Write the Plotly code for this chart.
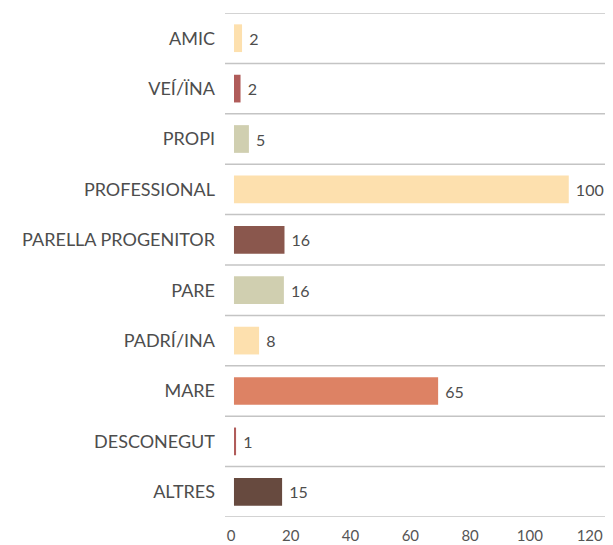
import plotly.graph_objects as go

categories = ["AMIC", "VEÍ/ÏNA", "PROPI", "PROFESSIONAL", "PARELLA PROGENITOR",
              "PARE", "PADRÍ/INA", "MARE", "DESCONEGUT", "ALTRES"]
labels = [2, 2, 5, 100, 16, 16, 8, 65, 1, 15]
# bar lengths as drawn in the picture (axis units), starting at the bar base
bar_lengths = [2.7, 2.2, 5.0, 112.0, 16.9, 16.7, 8.4, 68.3, 0.7, 16.1]
bar_base = 1.0
colors = ["#fde0ae", "#b05c5a", "#d0cfb0", "#fde0ae", "#8a574d",
          "#d0cfb0", "#fde0ae", "#dd8264", "#b05c5a", "#674a3f"]
x_ticks = [0, 20, 40, 60, 80, 100, 120]

fig = go.Figure()
fig.add_trace(go.Bar(
    y=categories, x=bar_lengths, base=bar_base, orientation="h",
    marker=dict(color=colors, line=dict(width=0)),
    width=0.55,
    text=[str(v) for v in labels], texttemplate=" %{text}",
    textposition="outside",
    textfont=dict(family="Lato", size=16, color="#4d4d4d"),
    cliponaxis=False, hoverinfo="skip",
))

n = len(categories)
for i in range(n + 1):
    fig.add_shape(type="line", xref="paper", x0=0, x1=1, yref="y",
                  y0=i - 0.5, y1=i - 0.5,
                  line=dict(color="#c4c4c4", width=1.5), layer="below")

fig.update_layout(
    width=605, height=537,
    margin=dict(l=217, r=0, t=5, b=28),
    paper_bgcolor="white", plot_bgcolor="white",
    showlegend=False,
    xaxis=dict(range=[-2.0, 127.8], tickvals=x_ticks, showgrid=False,
               zeroline=False, showline=False, ticks="", automargin=False,
               ticklabelstandoff=8,
               tickfont=dict(family="Lato", size=15, color="#555555")),
    yaxis=dict(categoryorder="array", categoryarray=categories,
               autorange=False, range=[n - 0.5, -0.5], automargin=False,
               showgrid=False, zeroline=False, showline=False, ticks="",
               ticklabelstandoff=9,
               tickfont=dict(family="Lato", size=18, color="#4d4d4d")),
)

fig.write_html("out.html")
